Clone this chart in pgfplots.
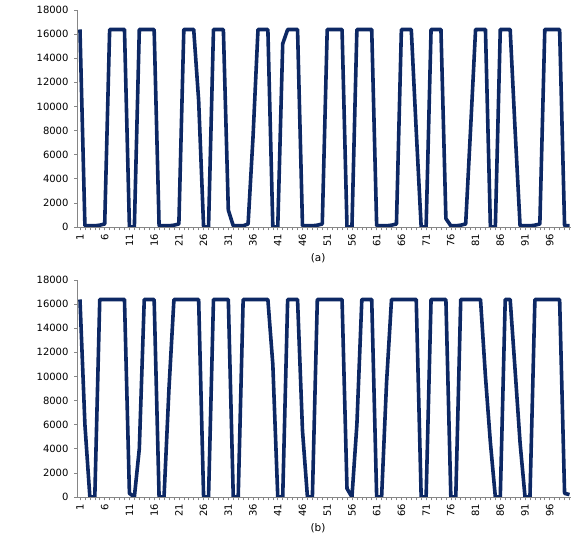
\documentclass[border=0pt]{standalone}
\usepackage{fontspec}
\setmainfont{DejaVu Sans}
\usepackage{pgfplots}
\usepackage{pgfplotstable}
\pgfplotsset{compat=1.18}
\definecolor{navy}{RGB}{13,40,100}
\definecolor{axgray}{RGB}{134,134,134}

\pgfplotstableread{
k a b
1 16383 16383
2 100 6000
3 100 0
4 100 0
5 150 16383
6 250 16383
7 16383 16383
8 16383 16383
9 16383 16383
10 16383 16383
11 0 300
12 0 0
13 16383 4000
14 16383 16383
15 16383 16383
16 16383 16383
17 100 0
18 100 0
19 100 9000
20 150 16383
21 250 16383
22 16383 16383
23 16383 16383
24 16383 16383
25 10500 16383
26 0 0
27 0 0
28 16383 16383
29 16383 16383
30 16383 16383
31 1400 16383
32 100 0
33 100 0
34 100 16383
35 250 16383
36 7500 16383
37 16383 16383
38 16383 16383
39 16383 16383
40 0 11000
41 0 0
42 15200 0
43 16383 16383
44 16383 16383
45 16383 16383
46 100 5500
47 100 0
48 100 0
49 150 16383
50 250 16383
51 16383 16383
52 16383 16383
53 16383 16383
54 16383 16383
55 0 700
56 0 0
57 16383 6000
58 16383 16383
59 16383 16383
60 16383 16383
61 100 0
62 100 0
63 100 9500
64 150 16383
65 250 16383
66 16383 16383
67 16383 16383
68 16383 16383
69 8000 16383
70 0 0
71 0 0
72 16383 16383
73 16383 16383
74 16383 16383
75 700 16383
76 100 0
77 100 0
78 150 16383
79 250 16383
80 8200 16383
81 16383 16383
82 16383 16383
83 16383 10000
84 0 4500
85 0 0
86 16383 0
87 16383 16383
88 16383 16383
89 8000 10500
90 100 4500
91 100 0
92 100 0
93 150 16383
94 250 16383
95 16383 16383
96 16383 16383
97 16383 16383
98 16383 16383
99 100 300
100 100 200
}\datatable

\pgfplotsset{mystyle/.style={
  scale only axis, width=494pt, height=217pt,
  xmin=0.5, xmax=100.4, ymin=0, ymax=18000,
  axis x line*=bottom, axis y line*=left,
  axis line style={axgray, line width=0.8pt, -},
  xtick={1,6,...,96},
  minor xtick={1,...,100},
  ytick={0,2000,...,18000},
  tick align=outside,
  major tick length=3.5pt, minor tick length=3.5pt,
  tick style={axgray, line width=0.6pt},
  every tick/.style={axgray, line width=0.6pt},
  minor tick style={axgray, line width=0.6pt},
  scaled y ticks=false,
  /pgf/number format/assume math mode=true,
  /pgf/number format/1000 sep={},
  xticklabel style={rotate=90, anchor=east, font=\fontsize{10}{12}\selectfont},
  yticklabel style={font=\fontsize{10}{12}\selectfont, xshift=-2pt},
  xlabel style={font=\fontsize{10.5}{12}\selectfont, at={(ticklabel cs:0.487)}},
}}

\begin{document}
\begin{tikzpicture}
\useasboundingbox (0pt,0pt) rectangle (574pt,535pt);
\begin{axis}[mystyle, at={(77.5pt,308pt)}, anchor=south west, xlabel={(a)}]
\addplot[navy, line width=3.6pt, line join=round, no marks] table[x=k, y=a] {\datatable};
\end{axis}
\begin{axis}[mystyle, at={(77.5pt,38pt)}, anchor=south west, xlabel={(b)}]
\addplot[navy, line width=3.6pt, line join=round, no marks] table[x=k, y=b] {\datatable};
\end{axis}
\end{tikzpicture}
\end{document}
